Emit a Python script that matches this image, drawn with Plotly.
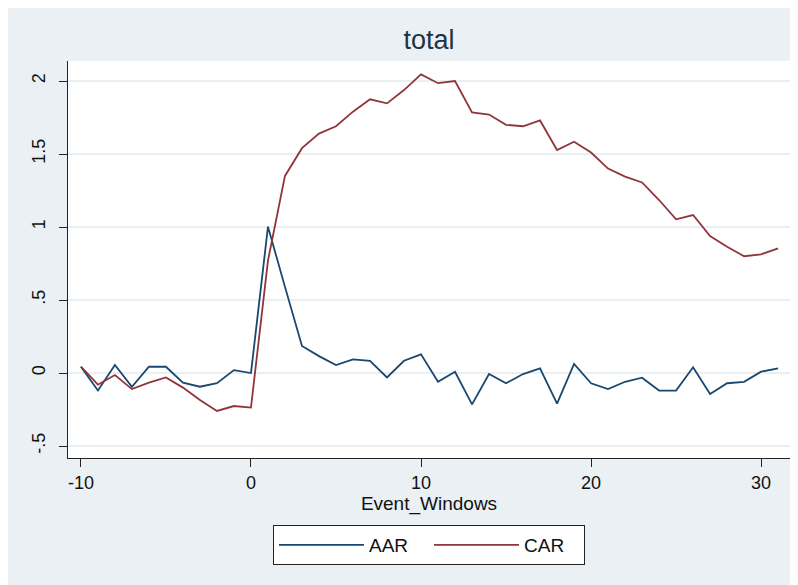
import plotly.graph_objects as go

event_windows = list(range(-10, 32))

aar = [0.043, -0.12, 0.055, -0.094, 0.043, 0.043, -0.066, -0.094, -0.07, 0.02,
       0.0, 1.002, 0.59, 0.185, 0.116, 0.055, 0.094, 0.084, -0.03, 0.084,
       0.128, -0.06, 0.009, -0.215, -0.007, -0.07, -0.007, 0.032, -0.21, 0.062,
       -0.07, -0.11, -0.06, -0.032, -0.12, -0.12, 0.039, -0.144, -0.07, -0.06,
       0.009, 0.032]

car = [0.043, -0.08, -0.014, -0.11, -0.066, -0.03, -0.10, -0.185, -0.26, -0.226,
       -0.237, 0.77, 1.35, 1.54, 1.64, 1.69, 1.79, 1.875, 1.847, 1.938,
       2.045, 1.985, 2.0, 1.785, 1.77, 1.70, 1.69, 1.73, 1.527, 1.584,
       1.51, 1.40, 1.345, 1.305, 1.185, 1.053, 1.082, 0.938, 0.865, 0.80,
       0.813, 0.854]

x_ticks = [-10, 0, 10, 20, 30]
x_tick_labels = ["-10", "0", "10", "20", "30"]
y_ticks = [-0.5, 0, 0.5, 1, 1.5, 2]
y_tick_labels = ["-.5", "0", ".5", "1", "1.5", "2"]

FONT = "Liberation Sans, Arial, sans-serif"
BG = "#eaf0f3"

fig = go.Figure()
fig.add_trace(go.Scatter(x=event_windows, y=aar, mode="lines", name="AAR",
                         line=dict(color="#1a476f", width=1.8)))
fig.add_trace(go.Scatter(x=event_windows, y=car, mode="lines", name="CAR",
                         line=dict(color="#90353b", width=1.8)))

# page body has an 8px margin; figure placed at (8, 8)
OFF = 8
W, H = 790, 577
L, R, T, B = 68 - OFF, 8, 61 - OFF, 127
pw = W - L - R
ph = H - T - B

fig.update_layout(
    width=W, height=H,
    margin=dict(l=L, r=R, t=T, b=B, pad=0, autoexpand=False),
    paper_bgcolor=BG,
    plot_bgcolor="white",
    font=dict(family=FONT, size=18, color="#111111"),
    title=dict(text="total", x=0.5, xref="paper", xanchor="center",
               y=1 - (40 - OFF) / H, yref="container", yanchor="middle",
               font=dict(family=FONT, size=27, color="#1e3346")),
    showlegend=True,
    legend=dict(orientation="h", x=0.5, xanchor="center", xref="paper",
                y=1 - (525 - OFF) / H, yanchor="top", yref="container",
                bgcolor="white", bordercolor="#222222", borderwidth=1,
                font=dict(family=FONT, size=19, color="#111111"),
                entrywidth=55, entrywidthmode="pixels",
                itemwidth=85, tracegroupgap=0),
    xaxis=dict(range=[-10.76, 31.7], tickvals=x_ticks, ticktext=x_tick_labels,
               ticks="outside",
               ticklen=8, tickwidth=1, tickcolor="#222222", automargin=False,
               showgrid=False, zeroline=False, showline=True,
               linecolor="#222222", linewidth=1,
               tickfont=dict(family=FONT, size=18, color="#111111"),
               title=dict(text="Event_Windows", standoff=2,
                          font=dict(family=FONT, size=19, color="#111111"))),
    yaxis=dict(range=[-0.582, 2.137], tickvals=y_ticks, ticktext=y_tick_labels,
               tickangle=-90, ticks="outside", ticklen=8, tickwidth=1,
               tickcolor="#222222", automargin=False, ticklabelstandoff=7,
               showgrid=True, gridcolor="#e9f0f2", gridwidth=1.5,
               zeroline=False, showline=True, linecolor="#222222", linewidth=1,
               tickfont=dict(family=FONT, size=18, color="#111111")),
)

fig.write_html("out.html")
